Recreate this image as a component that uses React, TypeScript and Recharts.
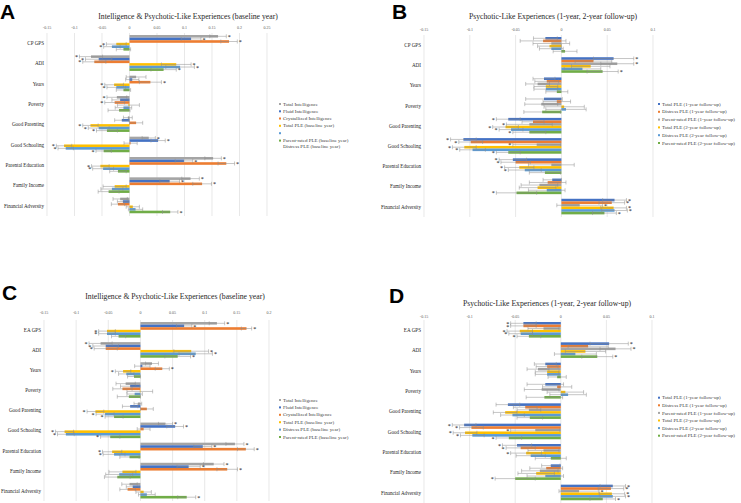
import React from 'react';
import { BarChart, Bar, XAxis, YAxis, CartesianGrid, ErrorBar } from 'recharts';

const SERIF = '"Liberation Serif", "Times New Roman", serif';
const SANS = '"Liberation Sans", Arial, sans-serif';

const GREY = '#A5A5A5';
const BLUE = '#4472C4';
const ORANGE = '#ED7D31';
const YELLOW = '#FFC000';
const LBLUE = '#5B9BD5';
const GREEN = '#70AD47';

const catsAB = ['CP GPS', 'ADI', 'Years', 'Poverty', 'Good Parenting', 'Good Schooling', 'Parental Education', 'Family Income', 'Financial Adversity'];
const catsCD = ['EA GPS', 'ADI', 'Years', 'Poverty', 'Good Parenting', 'Good Schooling', 'Parental Education', 'Family Income', 'Financial Adversity'];

const ticksA = [-0.15, -0.1, -0.05, 0, 0.05, 0.1, 0.15, 0.2, 0.25];
const ticksC = [-0.15, -0.1, -0.05, 0, 0.05, 0.1, 0.15, 0.2];
const ticksBD = [-0.15, -0.1, -0.05, 0, 0.05, 0.1];

// Panel A
const aTI = [0.161, -0.070, 0.012, -0.023, -0.003, 0.035, 0.152, 0.111, -0.017];
const aTIErr = [0.015, 0.021, 0.018, 0.018, 0.008, 0.012, 0.015, 0.016, 0.013];
const aTISig = [1, 1, 0, 1, 0, 1, 1, 1, 0];
const aFI = [0.112, -0.056, 0.005, -0.017, -0.014, 0.052, 0.099, 0.073, -0.012];
const aFIErr = [0.018, 0.024, 0.012, 0.015, 0.013, 0.013, 0.016, 0.018, 0.010];
const aFISig = [1, 1, 0, 0, 0, 1, 1, 1, 0];
const aCI = [0.181, -0.064, 0.038, -0.027, 0.012, 0.002, 0.176, 0.132, -0.021];
const aCIErr = [0.015, 0.021, 0.020, 0.018, 0.012, 0.012, 0.015, 0.017, 0.012];
const aCISig = [1, 1, 1, 1, 0, 0, 1, 1, 0];
const aTP = [-0.024, 0.085, -0.028, -0.002, -0.071, -0.119, -0.053, -0.027, 0.006];
const aTPErr = [0.018, 0.027, 0.017, 0.020, 0.014, 0.014, 0.016, 0.021, 0.012];
const aTPSig = [1, 1, 1, 0, 1, 1, 1, 0, 0];
const aDP = [-0.032, 0.092, -0.024, -0.011, -0.056, -0.116, -0.048, -0.032, 0.011];
const aDPErr = [0.015, 0.026, 0.017, 0.015, 0.019, 0.014, 0.019, 0.020, 0.013];
const aDPSig = [1, 1, 1, 0, 1, 1, 1, 0, 0];
const aPP = [-0.011, 0.062, -0.011, -0.019, -0.041, -0.047, -0.021, -0.038, 0.074];
const aPPErr = [0.013, 0.023, 0.013, 0.020, 0.019, 0.014, 0.015, 0.019, 0.014];
const aPPSig = [0, 1, 0, 0, 1, 1, 0, 0, 1];

// Panel B
const bT1 = [-0.0175, 0.057, -0.019, -0.019, -0.058, -0.107, -0.053, -0.010, 0.058];
const bT1Err = [0.013, 0.022, 0.012, 0.020, 0.013, 0.014, 0.015, 0.010, 0.013];
const bT1Sig = [0, 1, 0, 0, 1, 1, 1, 0, 1];
const bD1 = [-0.020, 0.035, -0.016, -0.005, -0.031, -0.099, -0.050, -0.015, 0.055];
const bD1Err = [0.025, 0.020, 0.013, 0.015, 0.012, 0.013, 0.016, 0.020, 0.014];
const bD1Sig = [0, 0, 0, 0, 0, 1, 1, 0, 1];
const bP1 = [-0.011, 0.061, -0.026, -0.022, -0.035, -0.027, -0.011, -0.024, 0.020];
const bP1Err = [0.020, 0.018, 0.013, 0.018, 0.025, 0.026, 0.025, 0.020, 0.025];
const bP1Sig = [0, 1, 0, 0, 1, 1, 0, 0, 1];
const bT2 = [-0.013, 0.032, -0.017, 0.003, -0.061, -0.106, -0.046, -0.026, 0.057];
const bT2Err = [0.013, 0.021, 0.013, 0.022, 0.014, 0.013, 0.016, 0.020, 0.014];
const bT2Sig = [0, 0, 0, 0, 1, 1, 1, 0, 1];
const bD2 = [-0.011, 0.023, -0.017, 0.005, -0.055, -0.097, -0.040, -0.016, 0.058];
const bD2Err = [0.013, 0.020, 0.013, 0.022, 0.013, 0.014, 0.018, 0.020, 0.014];
const bD2Sig = [0, 0, 0, 0, 1, 1, 1, 0, 1];
const bP2 = [0.004, 0.045, -0.005, -0.021, -0.035, -0.058, -0.018, -0.049, 0.047];
const bP2Err = [0.013, 0.017, 0.012, 0.020, 0.018, 0.013, 0.017, 0.022, 0.013];
const bP2Sig = [0, 1, 0, 0, 1, 1, 0, 1, 1];

// Panel C
const cTI = [0.119, -0.062, 0.018, -0.023, -0.004, 0.039, 0.147, 0.114, -0.017];
const cTIErr = [0.012, 0.018, 0.010, 0.015, 0.006, 0.011, 0.014, 0.016, 0.012];
const cTISig = [1, 1, 0, 0, 0, 1, 1, 1, 0];
const cFI = [0.068, -0.054, 0.003, -0.016, -0.016, 0.054, 0.097, 0.075, -0.012];
const cFIErr = [0.012, 0.020, 0.012, 0.015, 0.012, 0.013, 0.014, 0.018, 0.010];
const cFISig = [1, 1, 0, 0, 0, 1, 1, 1, 0];
const cCI = [0.165, -0.054, 0.034, -0.028, 0.010, 0.005, 0.164, 0.135, -0.020];
const cCIErr = [0.008, 0.018, 0.011, 0.015, 0.010, 0.010, 0.013, 0.016, 0.012];
const cCISig = [1, 1, 1, 0, 0, 0, 1, 1, 0];
const cTP = [-0.052, 0.079, -0.027, -0.001, -0.070, -0.118, -0.044, -0.028, 0.005];
const cTPErr = [0.013, 0.027, 0.012, 0.020, 0.013, 0.014, 0.015, 0.021, 0.012];
const cTPSig = [1, 1, 1, 0, 1, 1, 1, 0, 0];
const cDP = [-0.052, 0.086, -0.022, -0.009, -0.055, -0.116, -0.041, -0.033, 0.010];
const cDPErr = [0.013, 0.026, 0.012, 0.012, 0.014, 0.013, 0.017, 0.021, 0.013];
const cDPSig = [1, 1, 0, 0, 1, 1, 1, 0, 0];
const cPP = [-0.034, 0.058, -0.010, -0.018, -0.041, -0.047, -0.017, -0.036, 0.072];
const cPPErr = [0.011, 0.020, 0.010, 0.018, 0.014, 0.015, 0.015, 0.020, 0.014];
const cPPSig = [0, 1, 0, 0, 1, 1, 0, 0, 1];

// Panel D
const dT1 = [-0.041, 0.053, -0.017, -0.017, -0.058, -0.106, -0.048, -0.011, 0.057];
const dT1Err = [0.014, 0.021, 0.012, 0.020, 0.013, 0.013, 0.016, 0.010, 0.014];
const dT1Sig = [1, 1, 0, 0, 0, 1, 1, 0, 1];
const dD1 = [-0.041, 0.030, -0.015, -0.004, -0.039, -0.098, -0.044, -0.016, 0.055];
const dD1Err = [0.014, 0.022, 0.012, 0.016, 0.013, 0.013, 0.016, 0.018, 0.014];
const dD1Sig = [1, 0, 0, 0, 0, 1, 1, 0, 1];
const dP1 = [-0.019, 0.060, -0.025, -0.021, -0.035, -0.028, -0.019, -0.023, 0.020];
const dP1Err = [0.017, 0.017, 0.012, 0.019, 0.013, 0.027, 0.017, 0.020, 0.022];
const dP1Sig = [0, 1, 0, 0, 0, 1, 0, 0, 1];
const dT2 = [-0.045, 0.027, -0.015, 0.005, -0.061, -0.105, -0.038, -0.027, 0.056];
const dT2Err = [0.014, 0.022, 0.013, 0.020, 0.013, 0.013, 0.017, 0.020, 0.014];
const dT2Sig = [1, 0, 0, 0, 0, 1, 1, 0, 1];
const dD2 = [-0.044, 0.016, -0.015, 0.008, -0.053, -0.097, -0.033, -0.017, 0.057];
const dD2Err = [0.013, 0.023, 0.013, 0.020, 0.013, 0.013, 0.016, 0.020, 0.014];
const dD2Sig = [1, 0, 0, 0, 0, 1, 0, 0, 1];
const dP2 = [-0.035, 0.040, -0.004, -0.018, -0.034, -0.057, -0.011, -0.050, 0.046];
const dP2Err = [0.013, 0.017, 0.010, 0.020, 0.014, 0.014, 0.017, 0.022, 0.014];
const dP2Sig = [1, 1, 0, 0, 0, 1, 0, 1, 1];

type Series = { name: string; color: string; vals: number[]; errs: number[]; sig: number[] };

const seriesA: Series[] = [
  { name: 'Total Intelligence', color: GREY, vals: aTI, errs: aTIErr, sig: aTISig },
  { name: 'Fluid Intelligence', color: BLUE, vals: aFI, errs: aFIErr, sig: aFISig },
  { name: 'Crystallized Intelligence', color: ORANGE, vals: aCI, errs: aCIErr, sig: aCISig },
  { name: 'Total PLE (baseline year)', color: YELLOW, vals: aTP, errs: aTPErr, sig: aTPSig },
  { name: 'Distress PLE (baseline year)', color: LBLUE, vals: aDP, errs: aDPErr, sig: aDPSig },
  { name: 'Parent-rated PLE (baseline year)', color: GREEN, vals: aPP, errs: aPPErr, sig: aPPSig },
];
const seriesB: Series[] = [
  { name: 'Total PLE (1-year follow-up)', color: BLUE, vals: bT1, errs: bT1Err, sig: bT1Sig },
  { name: 'Distress PLE (1-year follow-up)', color: ORANGE, vals: bD1, errs: bD1Err, sig: bD1Sig },
  { name: 'Parent-rated PLE (1-year follow-up)', color: GREY, vals: bP1, errs: bP1Err, sig: bP1Sig },
  { name: 'Total PLE (2-year follow-up)', color: YELLOW, vals: bT2, errs: bT2Err, sig: bT2Sig },
  { name: 'Distress PLE (2-year follow-up)', color: LBLUE, vals: bD2, errs: bD2Err, sig: bD2Sig },
  { name: 'Parent-rated PLE (2-year follow-up)', color: GREEN, vals: bP2, errs: bP2Err, sig: bP2Sig },
];
const seriesC: Series[] = [
  { name: 'Total Intelligence', color: GREY, vals: cTI, errs: cTIErr, sig: cTISig },
  { name: 'Fluid Intelligence', color: BLUE, vals: cFI, errs: cFIErr, sig: cFISig },
  { name: 'Crystallized Intelligence', color: ORANGE, vals: cCI, errs: cCIErr, sig: cCISig },
  { name: 'Total PLE (baseline year)', color: YELLOW, vals: cTP, errs: cTPErr, sig: cTPSig },
  { name: 'Distress PLE (baseline year)', color: LBLUE, vals: cDP, errs: cDPErr, sig: cDPSig },
  { name: 'Parent-rated PLE (baseline year)', color: GREEN, vals: cPP, errs: cPPErr, sig: cPPSig },
];
const seriesD: Series[] = [
  { name: 'Total PLE (1-year follow-up)', color: BLUE, vals: dT1, errs: dT1Err, sig: dT1Sig },
  { name: 'Distress PLE (1-year follow-up)', color: ORANGE, vals: dD1, errs: dD1Err, sig: dD1Sig },
  { name: 'Parent-rated PLE (1-year follow-up)', color: GREY, vals: dP1, errs: dP1Err, sig: dP1Sig },
  { name: 'Total PLE (2-year follow-up)', color: YELLOW, vals: dT2, errs: dT2Err, sig: dT2Sig },
  { name: 'Distress PLE (2-year follow-up)', color: LBLUE, vals: dD2, errs: dD2Err, sig: dD2Sig },
  { name: 'Parent-rated PLE (2-year follow-up)', color: GREEN, vals: dP2, errs: dP2Err, sig: dP2Sig },
];

// bar + significance star, star placed past the end of the error bar
const makeShape = (s: Series) => (props: any) => {
  const { x, y, width, height, index } = props;
  const v = s.vals[index];
  const left = Math.min(x, x + width);
  const w = Math.abs(width);
  const rect = <rect x={left} y={y} width={w} height={height} fill={s.color} />;
  if (!s.sig[index] || !v) return rect;
  const perUnit = w / Math.abs(v);
  const sx = v > 0 ? left + w + s.errs[index] * perUnit + 3 : left - s.errs[index] * perUnit - 3;
  return (
    <g>
      {rect}
      <text x={sx} y={y + height / 2 + 2.6} fontSize={6} textAnchor="middle" fill="#000" fontFamily={SERIF}>*</text>
    </g>
  );
};

const CatTick = (props: any) => {
  const { x, y, payload } = props;
  return (
    <text x={x} y={y + 1.8} textAnchor="end" fontSize={5.1} fill="#262626" fontFamily={SERIF}>
      {payload.value}
    </text>
  );
};

type PanelProps = {
  left: number; top: number; width: number; height: number;
  margin: { top: number; right: number; bottom: number; left: number };
  yWidth: number; domain: [number, number]; ticks: number[]; tickGap: number;
  cats: string[]; series: Series[];
};

function Panel({ left, top, width, height, margin, yWidth, domain, ticks, tickGap, cats, series }: PanelProps) {
  const data = cats.map((c, i) => {
    const row: any = { name: c };
    series.forEach((s, k) => {
      row['v' + k] = s.vals[i];
      row['e' + k] = s.errs[i];
    });
    return row;
  });
  return (
    <div style={{ position: 'absolute', left, top }}>
      <BarChart width={width} height={height} data={data} layout="vertical" margin={margin} barGap={0} barSize={2.6}>
        <CartesianGrid horizontal={false} stroke="#d9d9d9" strokeWidth={0.6} />
        <XAxis
          type="number"
          orientation="top"
          domain={domain}
          ticks={ticks}
          interval={0}
          allowDataOverflow
          axisLine={false}
          tickLine={false}
          tickSize={0}
          tickMargin={tickGap}
          height={8}
          tick={{ fontSize: 4, fill: '#595959', fontFamily: SERIF }}
          tickFormatter={(t: number) => String(t)}
        />
        <YAxis
          type="category"
          dataKey="name"
          width={yWidth}
          interval={0}
          axisLine={false}
          tickLine={false}
          tickSize={0}
          tickMargin={3}
          tick={<CatTick />}
        />
        {series.map((s, k) => (
          <Bar key={k} dataKey={'v' + k} name={s.name} fill={s.color} isAnimationActive={false} shape={makeShape(s)}>
            <ErrorBar dataKey={'e' + k} direction="x" width={2} stroke="#8c8c8c" strokeWidth={0.5} />
          </Bar>
        ))}
      </BarChart>
    </div>
  );
}

type LegendRow = { color?: string; name: string; y: number };

function Legend({ x, rows }: { x: number; rows: LegendRow[] }) {
  return (
    <g>
      {rows.map((r, i) => (
        <g key={i}>
          {r.color && <rect x={x} y={r.y - 1} width={2} height={2} fill={r.color} />}
          <text x={x + 4} y={r.y + 1.6} fontSize={5} fill="#404040" fontFamily={SERIF}>{r.name}</text>
        </g>
      ))}
    </g>
  );
}

export default function App() {
  const legA: LegendRow[] = [
    { color: GREY, name: 'Total Intelligence', y: 104 },
    { color: BLUE, name: 'Fluid Intelligence', y: 111.3 },
    { color: ORANGE, name: 'Crystallized Intelligence', y: 118.5 },
    { color: YELLOW, name: 'Total PLE (baseline year)', y: 125.8 },
    { color: LBLUE, name: '', y: 133.2 },
    { color: GREEN, name: 'Parent-rated PLE (baseline year)', y: 140.6 },
    { name: 'Distress PLE (baseline year)', y: 146 },
  ];
  const legB: LegendRow[] = seriesB.map((s, i) => ({ color: s.color, name: s.name, y: 104 + i * 7.8 }));
  const legC: LegendRow[] = seriesC.map((s, i) => ({ color: s.color, name: s.name, y: 400 + i * 7.4 }));
  const legD: LegendRow[] = seriesD.map((s, i) => ({ color: s.color, name: s.name, y: 397.7 + i * 7.6 }));

  return (
    <div style={{ position: 'absolute', left: 0, top: 0, width: 741, height: 503, background: '#fff', overflow: 'hidden', opacity: 0.999 }}>
      <Panel left={0} top={0} width={370} height={230} margin={{ top: 25, right: 103, bottom: 14, left: 0 }}
        yWidth={47} domain={[-0.15, 0.25]} ticks={ticksA} tickGap={4.5} cats={catsAB} series={seriesA} />
      <Panel left={370} top={0} width={371} height={230} margin={{ top: 27, right: 88, bottom: 13, left: 0 }}
        yWidth={54} domain={[-0.15, 0.1]} ticks={ticksBD} tickGap={4.5} cats={catsAB} series={seriesB} />
      <Panel left={0} top={250} width={370} height={253} margin={{ top: 62, right: 101, bottom: 2, left: 0 }}
        yWidth={44} domain={[-0.15, 0.2]} ticks={ticksC} tickGap={6.5} cats={catsCD} series={seriesC} />
      <Panel left={370} top={250} width={371} height={253} margin={{ top: 62, right: 89, bottom: 0, left: 0 }}
        yWidth={54} domain={[-0.15, 0.1]} ticks={ticksBD} tickGap={2.5} cats={catsCD} series={seriesD} />
      <svg width={741} height={503} style={{ position: 'absolute', left: 0, top: 0, pointerEvents: 'none' }}>
        <g fontFamily={SANS} fontWeight="bold" fontSize={21} fill="#000">
          <text x={0} y={19}>A</text>
          <text x={392} y={19}>B</text>
          <text x={2} y={300}>C</text>
          <text x={389} y={303}>D</text>
        </g>
        <g fontFamily={SERIF} fontSize={7.7} fill="#262626" textAnchor="middle">
          <text x={188} y={18.5}>Intelligence &amp; Psychotic-Like Experiences (baseline year)</text>
          <text x={553} y={18.5}>Psychotic-Like Experiences (1-year, 2-year follow-up)</text>
          <text x={175} y={298.5}>Intelligence &amp; Psychotic-Like Experiences (baseline year)</text>
          <text x={547} y={305.5}>Psychotic-Like Experiences (1-year, 2-year follow-up)</text>
        </g>
        <Legend x={279} rows={legA} />
        <Legend x={658} rows={legB} />
        <Legend x={279} rows={legC} />
        <Legend x={658} rows={legD} />
      </svg>
    </div>
  );
}
